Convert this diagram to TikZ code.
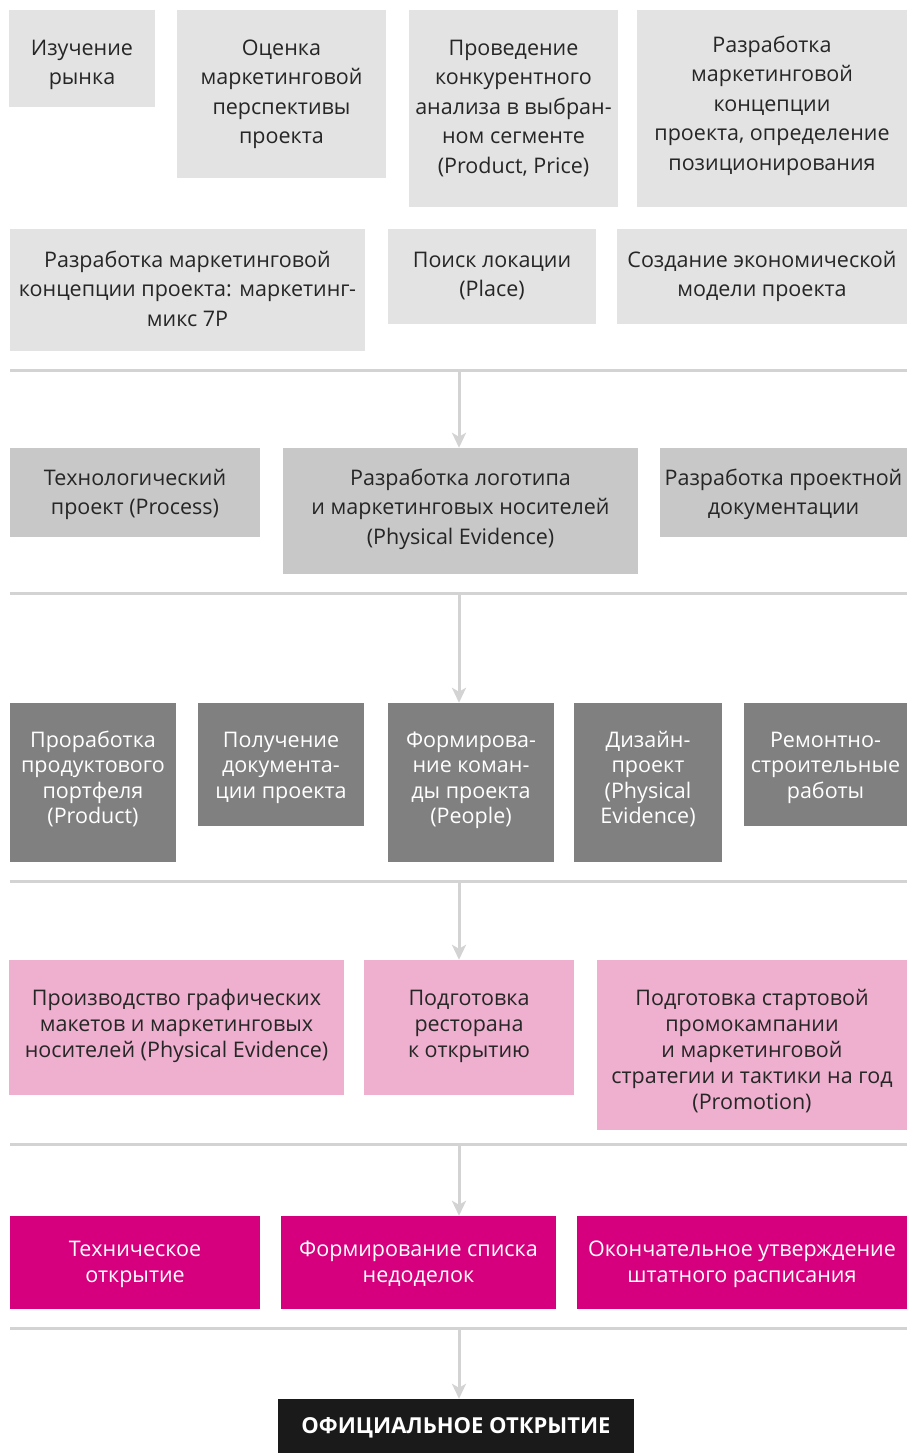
\documentclass[tikz,border=0pt]{standalone}
\usepackage{fontspec}
\setmainfont{Open Sans}
\usetikzlibrary{arrows.meta}
\definecolor{boxA}{HTML}{E3E3E3}
\definecolor{boxC}{HTML}{C8C8C8}
\definecolor{boxD}{HTML}{808080}
\definecolor{boxE}{HTML}{EFB0CF}
\definecolor{boxF}{HTML}{D6007F}
\definecolor{boxG}{HTML}{1A1A1A}
\definecolor{sep}{HTML}{D3D3D3}
\definecolor{ink}{HTML}{262626}
\tikzset{
  base/.style={inner sep=0pt, align=center},
  lightbox/.style={base, fill=boxA},
  lighttext/.style={base, text=ink, font=\fontsize{21.5}{29.5}\selectfont},
  midbox/.style={base, fill=boxC},
  midtext/.style={base, text=ink, font=\fontsize{21.5}{29.5}\selectfont},
  darkbox/.style={base, fill=boxD},
  darktext/.style={base, text=white, font=\fontsize{21.5}{25.5}\selectfont},
  pinkbox/.style={base, fill=boxE},
  pinktext/.style={base, text=ink, font=\fontsize{21.5}{26}\selectfont},
  magbox/.style={base, fill=boxF},
  magtext/.style={base, text=white, font=\fontsize{21.5}{26}\selectfont},
  finalbox/.style={base, fill=boxG, text=white, font=\fontsize{22}{26}\selectfont\bfseries},
  sepline/.style={draw=sep, line width=3pt},
  flow/.style={draw=sep, line width=3pt, -{Stealth[length=15pt,width=14pt,inset=4pt]}}
}
% kind, name, x1, y1, x2, y2, text top offset, text
\newcommand{\bx}[8]{%
  \node[#1box, minimum width={#5-#3}, minimum height={#6-#4}] (#2) at ({(#3+#5)/2},{(#4+#6)/2}) {};
  \node[#1text, anchor=north] (#2t) at ({(#3+#5)/2},{#4+#7}) {\strut #8};}
\begin{document}
\begin{tikzpicture}[x=1pt, y=-1pt]
\useasboundingbox (0,0) rectangle (907,1453);
% row 1
\bx{light}{a1}{9}{10}{155}{107}{24.3}{Изучение\\рынка}
\bx{light}{a2}{177}{10}{386}{178}{24.3}{Оценка\\маркетинговой\\перспективы\\проекта}
\bx{light}{a3}{409}{10}{618}{207}{24.3}{Проведение\\конкурентного\\анализа в выбран-\\ном сегменте\\(Product, Price)}
\bx{light}{a4}{637}{10}{907}{207}{21.3}{Разработка\\маркетинговой\\концепции\\проекта, определение\\позиционирования}
% row 2
\bx{light}{b1}{10}{229}{365}{351}{17.3}{Разработка маркетинговой\\концепции проекта: маркетинг-\\микс 7P}
\bx{light}{b2}{388}{229}{596}{324}{17.3}{Поиск локации\\(Place)}
\bx{light}{b3}{617}{229}{907}{324}{17.3}{Создание экономической\\модели проекта}
% row 3
\bx{mid}{c1}{10}{448}{260}{537}{16.3}{Технологический\\проект (Process)}
\bx{mid}{c2}{283}{448}{638}{574}{16.3}{Разработка логотипа\\и маркетинговых носителей\\(Physical Evidence)}
\bx{mid}{c3}{660}{448}{907}{537}{16.3}{Разработка проектной\\документации}
% row 4
\bx{dark}{d1}{10}{703}{176}{862}{26.1}{Проработка\\продуктового\\портфеля\\(Product)}
\bx{dark}{d2}{198}{703}{364}{826}{26.1}{Получение\\документа-\\ции проекта}
\bx{dark}{d3}{388}{703}{554}{862}{26.1}{Формирова-\\ние коман-\\ды проекта\\(People)}
\bx{dark}{d4}{574}{703}{722}{862}{26.1}{Дизайн-\\проект\\(Physical\\Evidence)}
\bx{dark}{d5}{744}{703}{907}{826}{26.1}{Ремонтно-\\строительные\\работы}
% row 5
\bx{pink}{e1}{9}{960}{344}{1095}{26.8}{Производство графических\\макетов и маркетинговых\\носителей (Physical Evidence)}
\bx{pink}{e2}{364}{960}{574}{1095}{26.8}{Подготовка\\ресторана\\к открытию}
\bx{pink}{e3}{597}{960}{907}{1130}{26.8}{Подготовка стартовой\\промокампании\\и маркетинговой\\стратегии и тактики на год\\(Promotion)}
% row 6
\bx{mag}{f1}{10}{1216}{260}{1309}{21.8}{Техническое\\открытие}
\bx{mag}{f2}{281}{1216}{556}{1309}{21.8}{Формирование списка\\недоделок}
\bx{mag}{f3}{577}{1216}{907}{1309}{21.8}{Окончательное утверждение\\штатного расписания}
% final
\node[finalbox, minimum width=356, minimum height=54, text depth=0pt] (g) at (456,1426) {ОФИЦИАЛЬНОЕ ОТКРЫТИЕ};
% separators
\foreach \n/\yy in {1/370, 2/593, 3/881, 4/1144, 5/1328} {
  \coordinate (s\n L) at (10,\yy);
  \coordinate (s\n R) at (907,\yy);
  \coordinate (s\n M) at (459,\yy);
  \draw[sepline] (s\n L) -- (s\n R);
}
\draw[flow] (s1M) -- (s1M |- c2.north);
\draw[flow] (s2M) -- (s2M |- d3.north);
\draw[flow] (s3M) -- (s3M |- e2.north);
\draw[flow] (s4M) -- (s4M |- f2.north);
\draw[flow] (s5M) -- (s5M |- g.north);
\end{tikzpicture}
\end{document}
